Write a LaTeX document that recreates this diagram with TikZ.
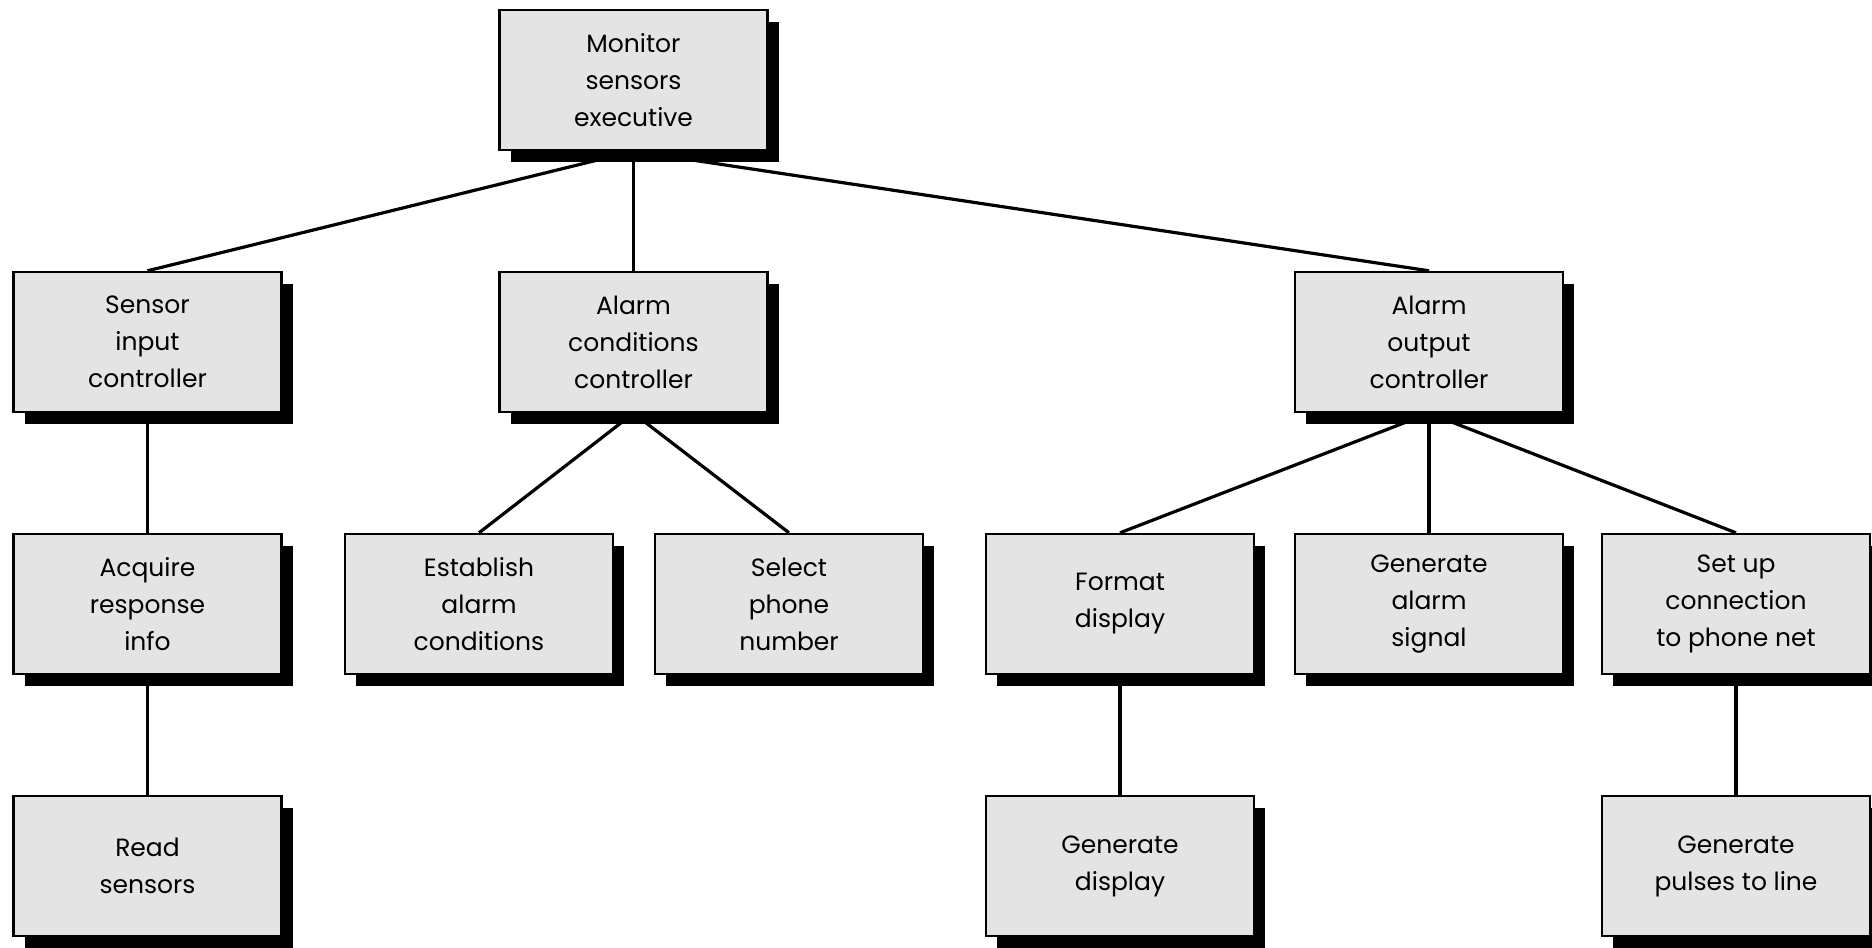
\documentclass[tikz,border=0pt]{standalone}
\usepackage{fontspec}
\setmainfont{Poppins}
\usepackage{tikz}
\usetikzlibrary{shapes.geometric, shadows, positioning, calc}
\definecolor{boxgray}{RGB}{228,228,228}
\tikzstyle{module} = [rectangle, minimum width=134pt, minimum height=70pt, inner sep=0pt, text centered, align=center, draw=black, line width=1.2pt, fill=boxgray, font=\fontsize{12.5pt}{18.5pt}\selectfont, drop shadow={shadow xshift=5.5pt, shadow yshift=-6pt, fill=black, opacity=1}]
\tikzstyle{link} = [line width=1.6pt]

\begin{document}
\begin{tikzpicture}[node distance=131pt]
\fill [white] (0pt,0pt) rectangle (936pt,-473.5pt);
\useasboundingbox (0pt,0pt) rectangle (936pt,-473.5pt);

\node (monitor) [module] at (316.75pt,-40pt) {Monitor\\sensors\\executive};
\node (sensor) [module, below of=monitor, xshift=-243pt] {Sensor\\input\\controller};
\node (alarmcond) [module, below of=monitor] {Alarm\\conditions\\controller};
\node (alarmout) [module, below of=monitor, xshift=397.75pt] {Alarm\\output\\controller};
\node (acquire) [module, below of=sensor] {Acquire\\response\\info};
\node (establish) [module, below of=alarmcond, xshift=-77.25pt] {Establish\\alarm\\conditions};
\node (select) [module, below of=alarmcond, xshift=77.75pt] {Select\\phone\\number};
\node (format) [module, below of=alarmout, xshift=-154.5pt] {Format\\display};
\node (genalarm) [module, below of=alarmout] {Generate\\alarm\\signal};
\node (setup) [module, below of=alarmout, xshift=153.5pt] {Set up\\connection\\to phone net};
\node (read) [module, below of=acquire] {Read\\sensors};
\node (gendisp) [module, below of=format] {Generate\\display};
\node (pulses) [module, below of=setup] {Generate\\pulses to line};

\draw [link] (monitor.south) -- (sensor.north);
\draw [link] (monitor.south) -- (alarmcond.north);
\draw [link] (monitor.south) -- (alarmout.north);
\draw [link] (sensor.south) -- (acquire.north);
\draw [link] (acquire.south) -- (read.north);
\draw [link] (alarmcond.south) -- (establish.north);
\draw [link] (alarmcond.south) -- (select.north);
\draw [link] (alarmout.south) -- (format.north);
\draw [link] (alarmout.south) -- (genalarm.north);
\draw [link] (alarmout.south) -- (setup.north);
\draw [link] (format.south) -- (gendisp.north);
\draw [link] (setup.south) -- (pulses.north);
\end{tikzpicture}
\end{document}
